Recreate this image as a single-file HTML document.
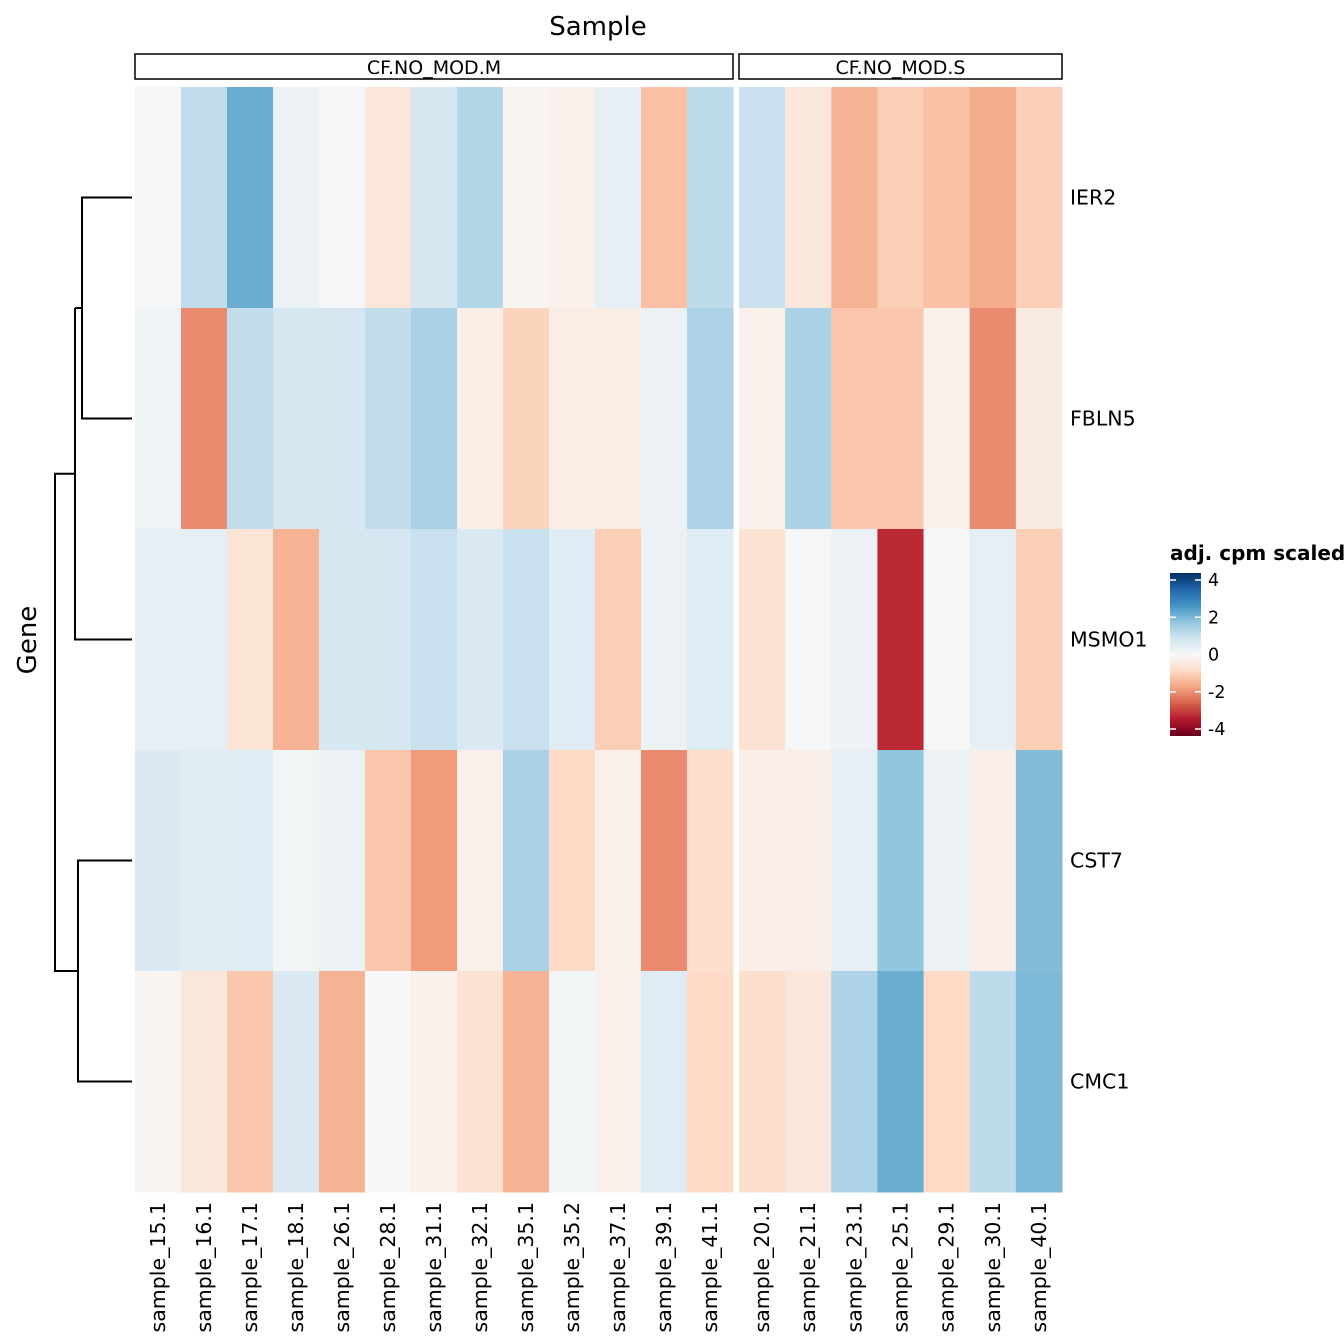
<!DOCTYPE html>
<html><head><meta charset="utf-8"><style>
html,body{margin:0;padding:0;background:#fff;overflow:hidden;}
svg{display:block;font-family:"DejaVu Sans","Liberation Sans",sans-serif;}
</style></head><body>
<svg id="chart" width="1344" height="1344" xmlns="http://www.w3.org/2000/svg">
<text x="598" y="35" font-size="26" text-anchor="middle">Sample</text>
<text transform="translate(36,640) rotate(-90)" font-size="26" text-anchor="middle">Gene</text>
<g id="cells"></g>
<g id="dendro" stroke="#000" stroke-width="2" fill="none"></g>
<g id="labels"></g>
<g>
<text x="1170" y="560" font-size="20" font-weight="bold">adj. cpm scaled</text>
<defs><linearGradient id="lg" x1="0" y1="1" x2="0" y2="0">
<stop offset="0" stop-color="#67001f"/><stop offset="0.1" stop-color="#b2182b"/><stop offset="0.2" stop-color="#d6604d"/><stop offset="0.3" stop-color="#f4a582"/><stop offset="0.4" stop-color="#fddbc7"/><stop offset="0.5" stop-color="#f7f7f7"/><stop offset="0.6" stop-color="#d1e5f0"/><stop offset="0.7" stop-color="#92c5de"/><stop offset="0.8" stop-color="#4393c3"/><stop offset="0.9" stop-color="#2166ac"/><stop offset="1" stop-color="#053061"/>
</linearGradient></defs>
<rect x="1170" y="573" width="31" height="163" fill="url(#lg)"/>
<g id="legticks"></g>
</g>
</svg>
<script>
const genes=["IER2","FBLN5","MSMO1","CST7","CMC1"];
const samplesM=["sample_15.1","sample_16.1","sample_17.1","sample_18.1","sample_26.1","sample_28.1","sample_31.1","sample_32.1","sample_35.1","sample_35.2","sample_37.1","sample_39.1","sample_41.1"];
const samplesS=["sample_20.1","sample_21.1","sample_23.1","sample_25.1","sample_29.1","sample_30.1","sample_40.1"];
const valuesM=[
[0.05,1.0,2.0,0.25,0.05,-0.5,0.7,1.2,-0.1,-0.2,0.35,-1.2,1.05],
[0.2,-1.9,1.0,0.7,0.7,1.0,1.3,-0.3,-0.9,-0.3,-0.3,0.25,1.25],
[0.35,0.35,-0.55,-1.4,0.7,0.7,0.9,0.6,0.9,0.5,-1.0,0.25,0.5],
[0.6,0.45,0.5,0.1,0.25,-1.1,-1.7,-0.2,1.3,-0.8,-0.2,-1.9,-0.7],
[-0.1,-0.45,-1.1,0.6,-1.4,0.0,-0.2,-0.6,-1.4,0.1,-0.2,0.5,-0.8]];
const valuesS=[
[0.9,-0.45,-1.4,-1.0,-1.2,-1.5,-1.0],
[-0.2,1.3,-1.1,-1.1,-0.2,-1.9,-0.35],
[-0.6,0.05,0.25,-3.0,0.0,0.35,-1.0],
[-0.25,-0.25,0.35,1.6,0.25,-0.25,1.75],
[-0.7,-0.45,1.25,2.0,-0.8,1.05,1.8]];
const legendTicks=[4,2,0,-2,-4];
const panelNames=["CF.NO_MOD.M","CF.NO_MOD.S"];

const NS="http://www.w3.org/2000/svg";
const pal=["#67001f","#b2182b","#d6604d","#f4a582","#fddbc7","#f7f7f7","#d1e5f0","#92c5de","#4393c3","#2166ac","#053061"];
function hex(h){return [1,3,5].map(i=>parseInt(h.substr(i,2),16));}
function color(v){let t=(Math.max(-4,Math.min(4,v))+4)/8*10;let i=Math.min(9,Math.floor(t));let f=t-i;let a=hex(pal[i]),b=hex(pal[i+1]);return "rgb("+a.map((c,k)=>Math.round(c+(b[k]-c)*f)).join(",")+")";}
const yTop=87,yBot=1192,rowH=(yBot-yTop)/genes.length;
function yRow(i){return yTop+i*rowH;}
const panels=[{x0:135,x1:733,s:samplesM,v:valuesM},{x0:739,x1:1062,s:samplesS,v:valuesS}];
const cells=document.getElementById('cells'),labels=document.getElementById('labels');
function mk(tag,attrs,parent){const e=document.createElementNS(NS,tag);for(const k in attrs)e.setAttribute(k,attrs[k]);parent.appendChild(e);return e;}
panels.forEach((p,pi)=>{
  const w=(p.x1-p.x0)/p.s.length;
  const strip=mk('rect',{x:p.x0,y:54,width:p.x1-p.x0,height:25,fill:'#fff',stroke:'#000','stroke-width':1.5},labels);
  
  
  const st=mk('text',{x:(p.x0+p.x1)/2,y:74,'font-size':19,'text-anchor':'middle'},labels);
  st.textContent=panelNames[pi];
  
  
  p.s.forEach((s,j)=>{
    const cx=p.x0+j*w;
    genes.forEach((g,i)=>{
      const r=mk('rect',{x:cx,y:yRow(i),width:w+0.5,height:rowH+0.5,fill:color(p.v[i][j])},cells);
      
      
    });
    const t=mk('text',{transform:`translate(${cx+w/2+7},1202) rotate(-90)`,'font-size':20.5,'text-anchor':'end'},labels);
    t.textContent=s;
    
    
  });
});
genes.forEach((g,i)=>{
  const t=mk('text',{x:1070,y:yRow(i)+rowH/2+7,'font-size':20.5},labels);
  t.textContent=g;
  
  
});
const d=document.getElementById('dendro');
const yc=i=>yRow(i)+rowH/2;
const m01=(yc(0)+yc(1))/2, m012=(m01+yc(2))/2, m34=(yc(3)+yc(4))/2;
const path=`M132 ${yc(0)}H82V${yc(1)}H132 M82 ${m01}H75 M75 ${m01}V${yc(2)}H132 M75 ${m012}H55V${m34}H78 M132 ${yc(3)}H78V${yc(4)}H132`;
const dp=mk('path',{d:path},d);


const lt=document.getElementById('legticks');
legendTicks.forEach(v=>{
  const y=654.5-v*(149/8);
  mk('line',{x1:1170,x2:1176,y1:y,y2:y,stroke:'#fff','stroke-width':1.5},lt);
  mk('line',{x1:1195,x2:1201,y1:y,y2:y,stroke:'#fff','stroke-width':1.5},lt);
  const t=mk('text',{x:1208,y:y+6,'font-size':17.5},lt);
  t.textContent=v;
  
  
});
</script>
</body></html>
